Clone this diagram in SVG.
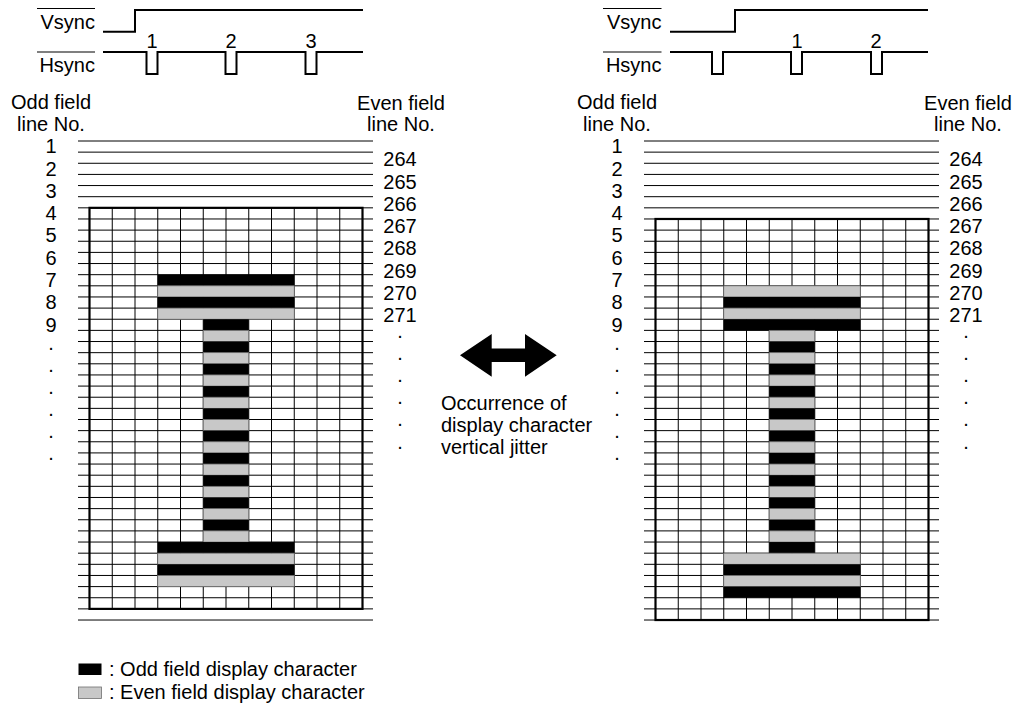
<svg xmlns="http://www.w3.org/2000/svg" width="1016" height="706" viewBox="0 0 1016 706">
<style>
text{font-family:"Liberation Sans",Arial,Helvetica,sans-serif;font-size:20px;fill:#000}
.c{text-anchor:middle}
.e{text-anchor:end}
.wave{fill:none;stroke:#000;stroke-width:2}
.ov{stroke:#000;stroke-width:1.2}
.hl{fill:none;stroke:#000;stroke-width:1}
.vl{fill:none;stroke:#000;stroke-width:1}
.box{fill:none;stroke:#000;stroke-width:2.2}
.k{fill:#000}
.g{fill:#c8c8c8;stroke:#707070;stroke-width:0.8}
</style>
<defs>
<path id="hlines" class="hl" d="M78 141H373M78 152.14H373M78 163.28H373M78 174.42H373M78 185.56H373M78 196.7H373M78 207.84H373M78 218.98H373M78 230.12H373M78 241.26H373M78 252.4H373M78 263.54H373M78 274.68H373M78 285.82H373M78 296.96H373M78 308.1H373M78 319.24H373M78 330.38H373M78 341.52H373M78 352.66H373M78 363.8H373M78 374.94H373M78 386.08H373M78 397.22H373M78 408.36H373M78 419.5H373M78 430.64H373M78 441.78H373M78 452.92H373M78 464.06H373M78 475.2H373M78 486.34H373M78 497.48H373M78 508.62H373M78 519.76H373M78 530.9H373M78 542.04H373M78 553.18H373M78 564.32H373M78 575.46H373M78 586.6H373M78 597.74H373M78 608.88H373M78 620.02H373"/>
</defs>

<!-- LEFT: timing -->
<g id="left-timing">
<text class="e" x="95" y="28.5">Vsync</text>
<line class="ov" x1="37" y1="8.5" x2="95" y2="8.5"/>
<text class="e" x="95" y="72">Hsync</text>
<line class="ov" x1="37" y1="52" x2="95" y2="52"/>
<path class="wave" d="M103 31.7H135V10H363"/>
<path class="wave" d="M103 52H146.5V74H157.5V52H225.5V74H236.5V52H305.5V74H316.5V52H363"/>
<text class="c" x="152" y="48.3">1</text>
<text class="c" x="231" y="48.3">2</text>
<text class="c" x="311" y="48.3">3</text>
</g>

<!-- LEFT: labels -->
<g id="left-labels">
<text class="c" x="51" y="109">Odd field</text>
<text class="c" x="51" y="131">line No.</text>
<text class="c" x="51" y="153.3">1</text>
<text class="c" x="51" y="175.58">2</text>
<text class="c" x="51" y="197.86">3</text>
<text class="c" x="51" y="220.14">4</text>
<text class="c" x="51" y="242.42">5</text>
<text class="c" x="51" y="264.7">6</text>
<text class="c" x="51" y="286.98">7</text>
<text class="c" x="51" y="309.26">8</text>
<text class="c" x="51" y="331.54">9</text>
<text class="c" x="51" y="349.5">.</text>
<text class="c" x="51" y="371.6">.</text>
<text class="c" x="51" y="393.7">.</text>
<text class="c" x="51" y="415.8">.</text>
<text class="c" x="51" y="437.9">.</text>
<text class="c" x="51" y="460">.</text>
<text class="c" x="401" y="109.5">Even field</text>
<text class="c" x="401" y="131">line No.</text>
<text class="c" x="400" y="166.3">264</text>
<text class="c" x="400" y="188.58">265</text>
<text class="c" x="400" y="210.86">266</text>
<text class="c" x="400" y="233.14">267</text>
<text class="c" x="400" y="255.42">268</text>
<text class="c" x="400" y="277.7">269</text>
<text class="c" x="400" y="299.98">270</text>
<text class="c" x="400" y="322.26">271</text>
<text class="c" x="400" y="338">.</text>
<text class="c" x="400" y="360.1">.</text>
<text class="c" x="400" y="382.2">.</text>
<text class="c" x="400" y="404.3">.</text>
<text class="c" x="400" y="426.4">.</text>
<text class="c" x="400" y="448.5">.</text>
</g>

<!-- LEFT: grid -->
<g id="left-grid">
<use href="#hlines"/>
<path class="vl" d="M112.25 207.84V608.88M135 207.84V608.88M157.75 207.84V608.88M180.5 207.84V608.88M203.25 207.84V608.88M226 207.84V608.88M248.75 207.84V608.88M271.5 207.84V608.88M294.25 207.84V608.88M317 207.84V608.88M339.75 207.84V608.88"/>
<rect class="box" x="89.5" y="207.84" width="273" height="401.04"/>
</g>

<g id="left-character">
<rect class="k" x="157.75" y="274.68" width="136.5" height="11.14"/>
<rect class="g" x="157.75" y="285.82" width="136.5" height="11.14"/>
<rect class="k" x="157.75" y="296.96" width="136.5" height="11.14"/>
<rect class="g" x="157.75" y="308.1" width="136.5" height="11.14"/>
<rect class="k" x="203.25" y="319.24" width="45.5" height="11.14"/>
<rect class="g" x="203.25" y="330.38" width="45.5" height="11.14"/>
<rect class="k" x="203.25" y="341.52" width="45.5" height="11.14"/>
<rect class="g" x="203.25" y="352.66" width="45.5" height="11.14"/>
<rect class="k" x="203.25" y="363.8" width="45.5" height="11.14"/>
<rect class="g" x="203.25" y="374.94" width="45.5" height="11.14"/>
<rect class="k" x="203.25" y="386.08" width="45.5" height="11.14"/>
<rect class="g" x="203.25" y="397.22" width="45.5" height="11.14"/>
<rect class="k" x="203.25" y="408.36" width="45.5" height="11.14"/>
<rect class="g" x="203.25" y="419.5" width="45.5" height="11.14"/>
<rect class="k" x="203.25" y="430.64" width="45.5" height="11.14"/>
<rect class="g" x="203.25" y="441.78" width="45.5" height="11.14"/>
<rect class="k" x="203.25" y="452.92" width="45.5" height="11.14"/>
<rect class="g" x="203.25" y="464.06" width="45.5" height="11.14"/>
<rect class="k" x="203.25" y="475.2" width="45.5" height="11.14"/>
<rect class="g" x="203.25" y="486.34" width="45.5" height="11.14"/>
<rect class="k" x="203.25" y="497.48" width="45.5" height="11.14"/>
<rect class="g" x="203.25" y="508.62" width="45.5" height="11.14"/>
<rect class="k" x="203.25" y="519.76" width="45.5" height="11.14"/>
<rect class="g" x="203.25" y="530.9" width="45.5" height="11.14"/>
<rect class="k" x="157.75" y="542.04" width="136.5" height="11.14"/>
<rect class="g" x="157.75" y="553.18" width="136.5" height="11.14"/>
<rect class="k" x="157.75" y="564.32" width="136.5" height="11.14"/>
<rect class="g" x="157.75" y="575.46" width="136.5" height="11.14"/>
</g>

<!-- RIGHT: timing -->
<g id="right-timing">
<text class="e" x="661.5" y="28.5">Vsync</text>
<line class="ov" x1="603" y1="8.5" x2="661.5" y2="8.5"/>
<text class="e" x="661.5" y="72">Hsync</text>
<line class="ov" x1="603" y1="52" x2="661.5" y2="52"/>
<path class="wave" d="M670 31.7H735V10H928"/>
<path class="wave" d="M670 52H712V74H723V52H791V74H802V52H871V74H882V52H928"/>
<text class="c" x="797" y="48.3">1</text>
<text class="c" x="876" y="48.3">2</text>
</g>

<g id="right-labels">
<text class="c" x="617" y="109">Odd field</text>
<text class="c" x="617" y="131">line No.</text>
<text class="c" x="617" y="153.3">1</text>
<text class="c" x="617" y="175.58">2</text>
<text class="c" x="617" y="197.86">3</text>
<text class="c" x="617" y="220.14">4</text>
<text class="c" x="617" y="242.42">5</text>
<text class="c" x="617" y="264.7">6</text>
<text class="c" x="617" y="286.98">7</text>
<text class="c" x="617" y="309.26">8</text>
<text class="c" x="617" y="331.54">9</text>
<text class="c" x="617" y="349.5">.</text>
<text class="c" x="617" y="371.6">.</text>
<text class="c" x="617" y="393.7">.</text>
<text class="c" x="617" y="415.8">.</text>
<text class="c" x="617" y="437.9">.</text>
<text class="c" x="617" y="460">.</text>
<text class="c" x="968" y="109.5">Even field</text>
<text class="c" x="968" y="131">line No.</text>
<text class="c" x="966" y="166.3">264</text>
<text class="c" x="966" y="188.58">265</text>
<text class="c" x="966" y="210.86">266</text>
<text class="c" x="966" y="233.14">267</text>
<text class="c" x="966" y="255.42">268</text>
<text class="c" x="966" y="277.7">269</text>
<text class="c" x="966" y="299.98">270</text>
<text class="c" x="966" y="322.26">271</text>
<text class="c" x="966" y="338">.</text>
<text class="c" x="966" y="360.1">.</text>
<text class="c" x="966" y="382.2">.</text>
<text class="c" x="966" y="404.3">.</text>
<text class="c" x="966" y="426.4">.</text>
<text class="c" x="966" y="448.5">.</text>
</g>

<g id="right-grid">
<use href="#hlines" x="566"/>
<path class="vl" d="M678.25 218.98V620.02M701 218.98V620.02M723.75 218.98V620.02M746.5 218.98V620.02M769.25 218.98V620.02M792 218.98V620.02M814.75 218.98V620.02M837.5 218.98V620.02M860.25 218.98V620.02M883 218.98V620.02M905.75 218.98V620.02"/>
<rect class="box" x="655.5" y="218.98" width="273" height="401.04"/>
</g>

<g id="right-character">
<rect class="g" x="723.75" y="285.82" width="136.5" height="11.14"/>
<rect class="k" x="723.75" y="296.96" width="136.5" height="11.14"/>
<rect class="g" x="723.75" y="308.1" width="136.5" height="11.14"/>
<rect class="k" x="723.75" y="319.24" width="136.5" height="11.14"/>
<rect class="g" x="769.25" y="330.38" width="45.5" height="11.14"/>
<rect class="k" x="769.25" y="341.52" width="45.5" height="11.14"/>
<rect class="g" x="769.25" y="352.66" width="45.5" height="11.14"/>
<rect class="k" x="769.25" y="363.8" width="45.5" height="11.14"/>
<rect class="g" x="769.25" y="374.94" width="45.5" height="11.14"/>
<rect class="k" x="769.25" y="386.08" width="45.5" height="11.14"/>
<rect class="g" x="769.25" y="397.22" width="45.5" height="11.14"/>
<rect class="k" x="769.25" y="408.36" width="45.5" height="11.14"/>
<rect class="g" x="769.25" y="419.5" width="45.5" height="11.14"/>
<rect class="k" x="769.25" y="430.64" width="45.5" height="11.14"/>
<rect class="g" x="769.25" y="441.78" width="45.5" height="11.14"/>
<rect class="k" x="769.25" y="452.92" width="45.5" height="11.14"/>
<rect class="g" x="769.25" y="464.06" width="45.5" height="11.14"/>
<rect class="k" x="769.25" y="475.2" width="45.5" height="11.14"/>
<rect class="g" x="769.25" y="486.34" width="45.5" height="11.14"/>
<rect class="k" x="769.25" y="497.48" width="45.5" height="11.14"/>
<rect class="g" x="769.25" y="508.62" width="45.5" height="11.14"/>
<rect class="k" x="769.25" y="519.76" width="45.5" height="11.14"/>
<rect class="g" x="769.25" y="530.9" width="45.5" height="11.14"/>
<rect class="k" x="769.25" y="542.04" width="45.5" height="11.14"/>
<rect class="g" x="723.75" y="553.18" width="136.5" height="11.14"/>
<rect class="k" x="723.75" y="564.32" width="136.5" height="11.14"/>
<rect class="g" x="723.75" y="575.46" width="136.5" height="11.14"/>
<rect class="k" x="723.75" y="586.6" width="136.5" height="11.14"/>
</g>

<!-- middle -->
<g id="jitter-arrow">
<polygon class="k" points="460,355.3 491.7,334 491.7,348.5 525,348.5 525,334 556.7,355.3 525,376.7 525,362 491.7,362 491.7,376.7"/>
</g>
<g id="jitter-label">
<text x="441" y="410">Occurrence of</text>
<text x="441" y="432">display character</text>
<text x="441" y="454">vertical jitter</text>
</g>

<!-- legend -->
<g id="legend">
<rect class="k" x="78.5" y="663.5" width="23" height="11.5"/>
<text x="109" y="676">: Odd field display character</text>
<rect class="g" x="78.5" y="687" width="23" height="11.5"/>
<text x="109" y="699">: Even field display character</text>
</g>
</svg>
